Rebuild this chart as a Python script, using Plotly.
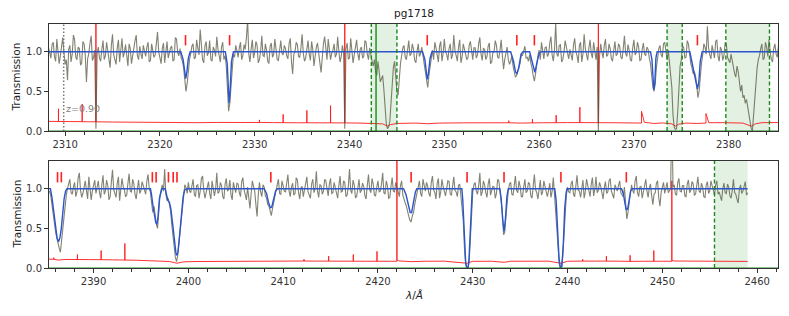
import numpy as np
import plotly.graph_objects as go

# ---------------- data ----------------
TITLE = "pg1718"
Z_LABEL = "z=0.90"
Z_WAVE = 2309.85
Z_LABEL_Y = 0.28

top_xrange = [2308.3, 2385.2]
bot_xrange = [2385.3, 2462.2]
y_range = [0, 1.35]
y_ticks = [0.0, 0.5, 1.0]
y_ticktext = ["0.0", "0.5", "1.0"]

# observed normalised flux, sampled every 0.125 A
top_wave0, top_dwave = 2308.25, 0.125
top_flux = [
    1.05, 0.97, 0.92, 1.09, 1.12, 0.94, 0.88, 1.16, 1.02, 0.85, 0.95, 1.07, 1.18, 0.99, 0.84, 0.90, 0.64, 1.03, 1.08, 0.87,
    0.97, 1.21, 1.15, 0.93, 0.90, 1.06, 1.04, 0.83, 0.86, 1.13, 1.10, 0.96, 0.62, 0.91, 0.98, 1.11, 1.20, 0.89, 0.93, 1.02,
    0.03, 0.98, 1.06, 0.92, 0.88, 1.03, 1.14, 0.90, 0.95, 1.12, 1.02, 0.94, 0.80, 1.08, 1.22, 0.96, 0.91, 0.84, 1.05, 1.15,
    0.87, 1.00, 1.17, 0.93, 0.99, 1.09, 0.93, 0.82, 1.10, 1.04, 0.85, 0.97, 1.03, 1.14, 1.21, 0.95, 0.90, 1.07, 0.97, 0.91,
    1.08, 0.99, 0.94, 1.06, 1.12, 0.87, 0.89, 1.10, 1.01, 0.93, 0.96, 1.14, 1.25, 1.00, 0.92, 0.85, 1.04, 1.11, 0.86, 0.97,
    1.13, 0.92, 0.98, 1.05, 1.07, 0.88, 0.90, 1.18, 1.16, 0.99, 0.95, 1.04, 0.92, 0.88, 0.80, 0.62, 0.50, 0.60, 0.78, 0.90,
    0.98, 1.07, 1.10, 0.91, 0.93, 1.15, 1.05, 0.96, 1.28, 1.02, 0.90, 0.86, 1.07, 1.13, 0.95, 0.99, 1.14, 0.90, 0.88, 1.06,
    1.02, 0.94, 1.19, 1.03, 0.92, 0.87, 1.06, 1.12, 0.90, 0.95, 0.82, 0.55, 0.25, 0.35, 0.60, 0.85, 0.97, 0.93, 1.08, 1.01,
    0.93, 1.05, 1.12, 0.90, 0.95, 1.09, 1.03, 1.18, 1.40, 0.97, 0.87, 1.04, 1.15, 0.92, 0.99, 1.13, 1.08, 0.86, 0.90, 1.01,
    1.20, 0.95, 0.94, 1.10, 1.02, 0.88, 0.85, 1.07, 1.11, 0.93, 0.97, 1.16, 1.05, 0.90, 0.89, 1.02, 1.14, 0.98, 0.96, 1.08,
    1.04, 0.95, 0.91, 1.10, 1.17, 0.88, 0.72, 0.97, 1.00, 1.12, 1.09, 0.94, 0.93, 1.05, 1.22, 0.98, 0.88, 0.92, 1.05, 1.14,
    0.97, 0.89, 1.13, 1.03, 0.82, 0.96, 1.06, 1.11, 0.95, 0.86, 0.74, 1.00, 1.10, 1.19, 0.99, 0.90, 1.16, 1.04, 0.90, 0.98,
    1.02, 1.10, 0.93, 0.97, 1.19, 1.01, 0.87, 0.94, 1.08, 0.99, 0.03, 1.04, 1.11, 0.91, 0.92, 1.17, 1.04, 0.86, 0.96, 1.09,
    1.15, 0.98, 0.89, 1.03, 1.06, 0.92, 0.94, 1.14, 1.12, 0.97, 0.90, 1.05, 0.95, 0.88, 0.82, 0.90, 0.75, 0.70, 0.88, 0.78,
    0.62, 0.66, 0.70, 0.52, 0.30, 0.10, 0.03, 0.05, 0.12, 0.35, 0.60, 0.80, 0.88, 0.70, 0.50, 0.45, 0.68, 0.85, 0.95, 1.05,
    1.08, 0.93, 0.90, 1.02, 1.14, 0.95, 0.97, 1.10, 1.03, 0.89, 0.86, 1.00, 1.10, 0.94, 0.98, 1.06, 0.92, 0.85, 0.75, 0.62,
    0.55, 0.70, 0.82, 0.95, 1.02, 0.90, 1.12, 1.05, 0.93, 0.87, 1.07, 1.13, 0.88, 0.98, 1.16, 1.00, 0.97, 0.89, 1.04, 1.10,
    0.91, 0.96, 1.21, 1.02, 0.95, 0.88, 1.06, 1.15, 0.86, 0.93, 1.10, 1.04, 0.99, 0.90, 0.93, 1.08, 1.13, 0.97, 0.90, 1.05,
    1.05, 0.92, 0.96, 1.10, 1.18, 0.97, 0.89, 1.04, 1.03, 0.90, 0.94, 1.07, 1.11, 0.85, 0.87, 0.99, 1.00, 1.14, 1.08, 0.93,
    0.92, 1.02, 1.15, 0.95, 0.78, 0.90, 0.98, 1.06, 0.90, 0.84, 0.88, 0.95, 0.82, 0.74, 0.68, 0.70, 0.74, 0.80, 0.86, 0.97,
    0.95, 1.03, 1.07, 0.92, 0.93, 0.88, 0.96, 0.86, 0.80, 0.70, 0.63, 0.72, 0.85, 0.95, 1.02, 0.90, 1.12, 1.00, 0.91, 1.05,
    1.06, 0.94, 0.97, 1.11, 1.19, 0.96, 0.88, 1.03, 1.36, 0.97, 0.94, 1.08, 1.09, 0.87, 0.90, 1.00, 1.14, 1.06, 0.96, 0.91,
    1.03, 0.95, 0.89, 1.08, 1.17, 1.00, 0.95, 0.86, 1.08, 1.12, 0.87, 0.97, 1.22, 1.04, 0.93, 0.89, 1.05, 1.15, 0.98, 0.92,
    1.12, 1.01, 0.90, 1.06, 0.00, 0.95, 1.10, 0.99, 0.92, 1.08, 1.16, 0.94, 0.96, 1.10, 1.04, 0.91, 0.88, 1.02, 1.13, 0.95,
    0.97, 1.10, 1.07, 0.93, 0.91, 1.04, 1.20, 0.98, 0.94, 1.09, 1.02, 0.90, 0.88, 1.05, 1.15, 0.96, 0.99, 1.12, 1.06, 0.89,
    0.90, 1.03, 1.11, 0.97, 0.95, 1.06, 1.03, 0.92, 0.85, 0.70, 0.55, 0.50, 0.60, 0.80, 0.95, 1.04, 1.08, 0.96, 0.93, 1.10,
    1.12, 0.96, 0.90, 1.02, 0.85, 0.78, 0.55, 0.20, 0.05, 0.02, 0.03, 0.25, 0.60, 0.82, 0.90, 1.08, 1.05, 0.92, 0.93, 1.14,
    1.10, 0.95, 0.85, 0.80, 0.72, 0.75, 0.70, 0.58, 0.42, 0.50, 0.70, 0.85, 0.95, 1.10, 1.06, 0.97, 1.32, 1.05, 0.96, 0.91,
    1.08, 1.00, 0.92, 1.13, 1.15, 0.94, 0.88, 1.06, 1.02, 0.89, 0.95, 1.12, 1.10, 0.93, 0.90, 0.86, 0.97, 0.88, 0.80, 0.72,
    0.68, 0.82, 0.75, 0.60, 0.50, 0.58, 0.42, 0.45, 0.35, 0.40, 0.30, 0.22, 0.10, 0.03, 0.00, 0.20, 0.45, 0.65, 0.80, 0.90,
    0.95, 1.04, 1.10, 0.90, 0.92, 1.12, 1.06, 0.94, 1.15, 1.00, 0.90, 0.87, 1.04, 1.10, 0.97, 0.93, 1.08,
]

bot_wave0, bot_dwave = 2385.25, 0.125
bot_flux = [
    0.95, 0.97, 0.90, 0.78, 0.62, 0.52, 0.45, 0.38, 0.30, 0.25, 0.20, 0.35, 0.55, 0.68, 0.80, 0.92, 1.00, 1.06, 1.12, 0.95,
    0.93, 1.02, 1.08, 0.90, 0.96, 1.14, 1.20, 0.98, 0.89, 0.94, 1.05, 1.10, 0.98, 0.87, 1.15, 1.03, 0.86, 0.97, 1.03, 1.11,
    0.94, 1.02, 1.10, 0.95, 0.88, 1.05, 1.17, 0.93, 0.97, 1.11, 1.04, 0.86, 0.90, 1.08, 1.24, 0.99, 0.95, 0.89, 1.07, 1.15,
    0.85, 0.96, 1.13, 1.03, 0.99, 0.90, 0.92, 1.07, 1.19, 0.97, 0.96, 1.12, 1.06, 0.93, 0.87, 1.00, 1.11, 0.94, 0.98, 1.09,
    1.03, 0.96, 0.93, 1.10, 1.18, 1.00, 0.95, 0.82, 0.70, 0.78, 0.62, 0.55, 0.50, 0.72, 0.90, 0.98, 1.05, 0.97, 1.25, 0.93,
    0.85, 0.88, 0.80, 0.72, 0.55, 0.40, 0.25, 0.14, 0.08, 0.15, 0.30, 0.45, 0.60, 0.78, 0.92, 1.05, 1.02, 0.94, 1.08, 0.97,
    0.95, 1.06, 1.12, 0.93, 0.90, 1.04, 1.05, 0.88, 0.97, 1.13, 1.16, 0.98, 0.88, 0.95, 1.03, 1.09, 0.94, 0.87, 1.10, 1.02,
    0.91, 0.99, 1.20, 0.94, 0.96, 1.08, 1.04, 0.90, 0.87, 1.06, 1.13, 0.97, 0.99, 1.11, 0.92, 0.86, 1.08, 1.01, 0.95, 1.07,
    1.06, 0.95, 0.90, 1.09, 1.14, 0.99, 0.93, 0.86, 1.02, 0.90, 0.75, 0.94, 1.10, 1.03, 0.97, 0.80, 0.65, 0.92, 1.08, 0.96,
    0.90, 1.05, 1.02, 0.91, 0.88, 0.80, 0.78, 0.72, 0.66, 0.75, 0.85, 0.90, 0.98, 1.07, 1.12, 0.94, 0.93, 1.10, 1.05, 0.97,
    0.96, 1.05, 1.18, 0.97, 0.90, 1.02, 1.07, 0.92, 0.94, 1.14, 1.11, 0.95, 0.87, 1.01, 1.03, 0.90, 0.98, 1.08, 1.15, 0.96,
    0.92, 0.88, 1.06, 1.12, 0.95, 1.00, 1.22, 0.97, 0.89, 1.05, 1.04, 0.93, 0.97, 1.12, 1.10, 0.99, 0.91, 1.06, 1.13, 0.94,
    0.95, 1.08, 1.02, 0.93, 0.88, 1.04, 1.16, 0.96, 0.97, 1.10, 1.08, 0.90, 0.92, 1.03, 1.25, 0.98, 0.94, 1.11, 1.05, 0.89,
    0.90, 1.00, 1.12, 0.95, 0.98, 1.07, 1.03, 0.91, 0.87, 1.04, 1.18, 0.99, 0.95, 1.13, 1.06, 0.92, 0.91, 1.02, 1.10, 0.96,
    0.97, 1.06, 1.20, 0.95, 0.93, 1.10, 1.04, 0.88, 0.89, 1.03, 1.14, 0.97, 0.96, 1.08, 1.02, 0.93, 0.90, 1.04, 1.10, 0.92,
    0.85, 0.82, 0.78, 0.70, 0.65, 0.60, 0.58, 0.66, 0.70, 0.80, 0.88, 0.96, 1.05, 1.10, 0.94, 0.90, 1.12, 1.02, 0.97, 1.08,
    1.03, 0.94, 0.90, 1.08, 1.16, 0.99, 0.95, 0.87, 1.07, 1.13, 0.88, 0.96, 1.12, 1.03, 0.97, 0.91, 1.00, 1.10, 1.09, 0.93,
    0.92, 1.05, 1.15, 0.98, 0.96, 0.90, 1.04, 1.06, 0.90, 0.82, 0.60, 0.25, 0.05, 0.02, 0.00, 0.08, 0.40, 0.75, 0.95, 1.05,
    1.08, 0.97, 0.93, 1.04, 1.20, 0.91, 0.96, 1.10, 1.05, 0.95, 0.89, 1.06, 1.13, 0.92, 0.98, 1.03, 1.02, 0.88, 0.94, 1.12,
    1.10, 0.96, 0.90, 0.70, 0.42, 0.45, 0.65, 0.88, 0.97, 1.06, 1.08, 0.93, 0.92, 1.04, 1.16, 0.98, 0.95, 1.10, 1.03, 0.90,
    0.90, 1.02, 1.12, 0.95, 0.97, 1.08, 1.06, 0.91, 0.88, 1.03, 1.18, 0.99, 0.95, 0.87, 1.04, 1.11, 0.92, 0.96, 1.10, 1.01,
    0.96, 0.90, 1.02, 1.07, 0.89, 0.97, 1.14, 0.93, 0.80, 0.55, 0.25, 0.05, 0.00, 0.03, 0.15, 0.45, 0.75, 0.92, 1.02, 0.96,
    0.95, 1.06, 1.10, 0.93, 0.90, 1.02, 1.17, 0.98, 0.97, 0.89, 1.04, 1.11, 0.88, 0.96, 1.12, 1.03, 0.94, 0.90, 1.06, 1.14,
    0.91, 0.99, 1.15, 0.95, 0.98, 1.08, 1.03, 0.92, 0.87, 1.01, 1.09, 0.94, 0.96, 1.10, 1.13, 0.97, 0.92, 0.88, 1.05, 1.02,
    0.97, 1.04, 1.10, 0.95, 0.93, 0.90, 1.02, 0.78, 0.62, 0.70, 0.80, 0.92, 1.05, 0.98, 0.94, 1.10, 1.16, 0.95, 0.90, 1.02,
    1.03, 0.88, 0.96, 1.09, 1.12, 0.97, 0.89, 1.01, 1.06, 0.91, 0.80, 0.93, 0.95, 1.07, 1.10, 0.88, 0.78, 0.96, 1.02, 1.08,
    0.94, 1.03, 1.08, 0.95, 0.97, 1.00, 2.00, 1.02, 1.05, 0.93, 0.92, 1.08, 1.13, 0.97, 0.96, 1.04, 1.04, 0.91, 0.90, 1.06,
    1.11, 0.95, 0.98, 1.09, 1.06, 0.92, 0.93, 1.03, 1.15, 0.97, 0.95, 1.07, 1.02, 0.90, 0.89, 1.05, 1.09, 0.94, 0.97, 1.10,
    1.03, 0.96, 0.92, 1.05, 1.10, 0.93, 0.96, 0.90, 0.85, 1.00, 1.07, 0.95, 0.94, 1.06, 1.02, 0.91, 0.88, 0.98, 1.12, 0.95,
    0.93, 0.87, 0.82, 0.99, 1.05, 0.94, 0.97, 1.03, 1.09, 0.92, 0.95,
]

# fitted absorption model (wavelength, transmission)
top_model_pts = [
    (2308.25, 1.0), (2322.2, 1.0), (2322.45, 0.9), (2322.6, 0.72), (2322.72, 0.66), (2322.85, 0.75), (2323.0, 0.92), (2323.2, 1.0),
    (2326.9, 1.0), (2327.1, 0.85), (2327.22, 0.5), (2327.3, 0.35), (2327.4, 0.5), (2327.55, 0.88), (2327.75, 1.0),
    (2347.7, 1.0), (2347.95, 0.9), (2348.1, 0.72), (2348.2, 0.65), (2348.32, 0.72), (2348.5, 0.92), (2348.7, 1.0),
    (2357.0, 1.0), (2357.3, 0.88), (2357.5, 0.75), (2357.65, 0.72), (2357.85, 0.8), (2358.1, 0.97), (2358.3, 1.0),
    (2359.0, 1.0), (2359.25, 0.88), (2359.45, 0.75), (2359.55, 0.74), (2359.75, 0.85), (2360.0, 0.98), (2360.2, 1.0),
    (2371.75, 1.0), (2371.9, 0.9), (2372.02, 0.6), (2372.1, 0.52), (2372.2, 0.6), (2372.32, 0.92), (2372.45, 1.0),
    (2375.9, 1.0), (2376.1, 0.88), (2376.25, 0.78), (2376.4, 0.72), (2376.55, 0.62), (2376.7, 0.53), (2376.85, 0.62),
    (2377.0, 0.88), (2377.2, 1.0), (2385.25, 1.0),
]
bot_model_pts = [
    (2385.25, 1.0), (2385.45, 1.0), (2385.6, 0.9), (2385.8, 0.72), (2386.0, 0.55), (2386.15, 0.38), (2386.3, 0.33),
    (2386.45, 0.38), (2386.6, 0.5), (2386.75, 0.7), (2386.9, 0.88), (2387.05, 0.97), (2387.2, 1.0),
    (2396.0, 1.0), (2396.1, 0.94), (2396.25, 0.8), (2396.4, 0.7), (2396.55, 0.58), (2396.68, 0.55), (2396.8, 0.65),
    (2396.95, 0.88), (2397.1, 0.98), (2397.2, 1.0), (2397.55, 1.0), (2397.7, 0.92), (2397.85, 0.85), (2398.0, 0.83),
    (2398.15, 0.75), (2398.35, 0.55), (2398.55, 0.3), (2398.7, 0.18), (2398.8, 0.16), (2398.9, 0.2), (2399.05, 0.38),
    (2399.25, 0.68), (2399.45, 0.9), (2399.6, 0.98), (2399.8, 1.0),
    (2408.0, 1.0), (2408.25, 0.94), (2408.45, 0.83), (2408.65, 0.76), (2408.8, 0.77), (2409.0, 0.88), (2409.2, 0.97), (2409.4, 1.0),
    (2422.7, 1.0), (2422.95, 0.93), (2423.2, 0.8), (2423.4, 0.7), (2423.55, 0.7), (2423.75, 0.82), (2423.95, 0.96), (2424.1, 1.0),
    (2428.85, 1.0), (2428.95, 0.85), (2429.1, 0.45), (2429.25, 0.08), (2429.35, 0.0), (2429.5, 0.0), (2429.6, 0.1),
    (2429.75, 0.55), (2429.85, 0.9), (2429.95, 1.0),
    (2432.85, 1.0), (2433.0, 0.88), (2433.15, 0.62), (2433.3, 0.46), (2433.45, 0.62), (2433.6, 0.9), (2433.75, 1.0),
    (2438.65, 1.0), (2438.8, 0.85), (2438.95, 0.5), (2439.1, 0.12), (2439.25, 0.0), (2439.4, 0.02), (2439.55, 0.3),
    (2439.7, 0.75), (2439.85, 0.95), (2439.95, 1.0),
    (2445.7, 1.0), (2445.9, 0.93), (2446.05, 0.82), (2446.2, 0.73), (2446.35, 0.75), (2446.5, 0.87), (2446.65, 0.97), (2446.8, 1.0),
    (2459.0, 1.0),
]

# flux error spectrum (wavelength, sigma); spikes as repeated wavelengths
top_err_pts = [
    (2308.25, 0.122), (2309.0, 0.121), (2309.3, 0.12), (2309.3, 0.28), (2309.3, 0.12), (2310.5, 0.119), (2311.8, 0.118),
    (2311.8, 0.34), (2311.8, 0.117), (2313.25, 0.116), (2313.25, 3.0), (2313.25, 0.116), (2315.0, 0.113), (2317.0, 0.11),
    (2319.0, 0.109), (2321.0, 0.106), (2322.7, 0.1), (2324.0, 0.105), (2326.0, 0.108), (2327.2, 0.115), (2327.5, 0.108),
    (2329.0, 0.107), (2330.5, 0.108), (2330.5, 0.14), (2330.5, 0.108), (2332.0, 0.106), (2333.0, 0.105), (2333.0, 0.21),
    (2333.0, 0.105), (2334.5, 0.104), (2335.5, 0.104), (2335.5, 0.26), (2335.5, 0.104), (2337.0, 0.103), (2338.0, 0.103),
    (2338.0, 0.32), (2338.0, 0.103), (2339.5, 0.102), (2339.5, 3.0), (2339.5, 0.102), (2341.0, 0.1), (2342.5, 0.098),
    (2343.5, 0.09), (2344.0, 0.06), (2344.3, 0.08), (2345.0, 0.095), (2347.0, 0.1), (2348.2, 0.092), (2349.5, 0.1),
    (2352.0, 0.103), (2354.5, 0.106), (2356.8, 0.104), (2356.8, 0.13), (2356.8, 0.104), (2358.0, 0.1), (2359.3, 0.102),
    (2359.3, 0.15), (2359.3, 0.102), (2360.5, 0.104), (2361.8, 0.105), (2361.8, 0.2), (2361.8, 0.105), (2363.0, 0.106),
    (2364.3, 0.106), (2364.3, 0.3), (2364.3, 0.106), (2366.25, 0.105), (2366.25, 3.0), (2366.25, 0.105), (2368.0, 0.104),
    (2370.8, 0.1), (2370.8, 0.25), (2370.95, 0.16), (2371.1, 0.11), (2372.1, 0.095), (2373.0, 0.102), (2374.0, 0.09),
    (2374.4, 0.06), (2374.7, 0.085), (2375.5, 0.1), (2376.7, 0.095), (2377.6, 0.1), (2377.6, 0.22), (2377.75, 0.15),
    (2377.9, 0.105), (2379.5, 0.105), (2381.5, 0.1), (2382.4, 0.06), (2382.8, 0.09), (2383.5, 0.105), (2385.25, 0.107),
]
bot_err_pts = [
    (2385.25, 0.112), (2385.8, 0.11), (2385.8, 0.13), (2385.8, 0.11), (2386.3, 0.1), (2387.0, 0.108), (2388.3, 0.107),
    (2388.3, 0.17), (2388.3, 0.107), (2389.5, 0.106), (2390.8, 0.105), (2390.8, 0.22), (2390.8, 0.105), (2392.0, 0.103),
    (2393.3, 0.1), (2393.3, 0.31), (2393.3, 0.1), (2394.5, 0.098), (2396.0, 0.092), (2396.7, 0.085), (2397.5, 0.088),
    (2398.0, 0.082), (2398.8, 0.06), (2399.5, 0.078), (2401.0, 0.082), (2403.0, 0.084), (2405.0, 0.086), (2407.0, 0.087),
    (2408.7, 0.083), (2410.0, 0.088), (2412.2, 0.088), (2412.2, 0.11), (2412.2, 0.088), (2413.5, 0.087), (2414.8, 0.087),
    (2414.8, 0.15), (2414.8, 0.087), (2416.0, 0.086), (2417.4, 0.086), (2417.4, 0.17), (2417.4, 0.086), (2418.5, 0.085),
    (2419.9, 0.085), (2419.9, 0.21), (2419.9, 0.085), (2421.0, 0.085), (2422.0, 0.085), (2422.0, 3.0), (2422.0, 0.1),
    (2422.2, 0.09), (2423.5, 0.08), (2425.0, 0.085), (2427.0, 0.086), (2429.4, 0.06), (2430.0, 0.084), (2432.0, 0.085),
    (2433.3, 0.072), (2434.0, 0.085), (2436.0, 0.086), (2438.0, 0.086), (2439.3, 0.06), (2440.0, 0.085), (2441.6, 0.087),
    (2441.6, 0.11), (2441.6, 0.087), (2443.0, 0.087), (2444.1, 0.087), (2444.1, 0.15), (2444.1, 0.087), (2445.5, 0.086),
    (2446.6, 0.083), (2446.6, 0.16), (2446.6, 0.083), (2448.0, 0.085), (2449.1, 0.085), (2449.1, 0.22), (2449.1, 0.085),
    (2450.0, 0.085), (2451.0, 0.085), (2451.0, 1.1), (2451.0, 0.095), (2451.3, 0.088), (2453.0, 0.085), (2455.0, 0.084),
    (2457.0, 0.083), (2459.0, 0.083),
]

# identified line positions (red ticks)
top_lines = [2322.7, 2327.35, 2348.2, 2357.65, 2359.5, 2376.7]
bot_lines = [2386.2, 2386.6, 2396.2, 2396.6, 2397.9, 2398.4, 2398.8, 2408.7, 2423.5, 2429.4, 2433.3, 2439.3, 2446.2]
tick_lo, tick_hi = 1.08, 1.21

# masked regions
top_regions = [(2342.3, 2345.0), (2373.5, 2375.1), (2379.7, 2384.3)]
top_dashed = [2342.3, 2345.0, 2373.5, 2375.1, 2379.7, 2384.3]
top_solid_green = [2342.8]
bot_regions = [(2455.5, 2459.0)]
bot_dashed = [2455.5]

# ---------------- styles ----------------
FONT = "DejaVu Sans"
C_DATA = "rgba(80,82,58,0.72)"
C_MODEL = "#2a55cc"
C_ERR = "#ff1a1a"
C_GREEN = "#1a8a1a"
C_AX = "#333333"

fig = go.Figure()


def add_panel(xa, ya, wave0, dwave, flux, model_pts, err_pts, lines):
    wave = wave0 + dwave * np.arange(len(flux))
    ex, ey = zip(*err_pts)
    fig.add_trace(go.Scatter(x=ex, y=ey, mode="lines", line=dict(color=C_ERR, width=0.9),
                             xaxis=xa, yaxis=ya, hoverinfo="skip", showlegend=False))
    fig.add_trace(go.Scatter(x=wave, y=flux, mode="lines", line=dict(color=C_DATA, width=1.1),
                             xaxis=xa, yaxis=ya, hoverinfo="skip", showlegend=False))
    mx, my = zip(*model_pts)
    fig.add_trace(go.Scatter(x=mx, y=my, mode="lines", line=dict(color=C_MODEL, width=1.4),
                             xaxis=xa, yaxis=ya, hoverinfo="skip", showlegend=False))
    tx, ty = [], []
    for w in lines:
        tx += [w, w, None]
        ty += [tick_lo, tick_hi, None]
    fig.add_trace(go.Scatter(x=tx, y=ty, mode="lines", line=dict(color="#ff2020", width=1.6),
                             xaxis=xa, yaxis=ya, hoverinfo="skip", showlegend=False))


add_panel("x", "y", top_wave0, top_dwave, top_flux, top_model_pts, top_err_pts, top_lines)
add_panel("x2", "y2", bot_wave0, bot_dwave, bot_flux, bot_model_pts, bot_err_pts, bot_lines)

shapes = []


def region_shapes(xref, yref, regions, dashed, solid):
    for a, b in regions:
        shapes.append(dict(type="rect", xref=xref, yref=yref + " domain", x0=a, x1=b, y0=0, y1=1,
                           fillcolor="rgba(0,128,0,0.11)", line=dict(width=0), layer="below"))
    for d in dashed:
        shapes.append(dict(type="line", xref=xref, yref=yref + " domain", x0=d, x1=d, y0=0, y1=1,
                           line=dict(color=C_GREEN, width=1.4, dash="4px,2.5px"), layer="above"))
    for s in solid:
        shapes.append(dict(type="line", xref=xref, yref=yref + " domain", x0=s, x1=s, y0=0, y1=1,
                           line=dict(color=C_GREEN, width=1.4), layer="above"))
    shapes.append(dict(type="line", xref=xref + " domain", yref=yref, x0=0, x1=1, y0=0, y1=0,
                       line=dict(color=C_GREEN, width=1.2), layer="above"))


region_shapes("x", "y", top_regions, top_dashed, top_solid_green)
region_shapes("x2", "y2", bot_regions, bot_dashed, [])
shapes.append(dict(type="line", xref="x", yref="y domain", x0=Z_WAVE, x1=Z_WAVE, y0=0, y1=1,
                   line=dict(color="#777777", width=1.5, dash="1.5px,2px"), layer="above"))

W, H = 789, 316
ML, MR, MT, MB = 49, 11, 24, 48
plot_h = H - MT - MB
top_dom = [137 / plot_h, 1.0]
bot_dom = [0.0, 107 / plot_h]

xcommon = dict(showline=True, mirror=True, linecolor=C_AX, linewidth=1, ticks="outside", ticklen=4,
               tickwidth=1, tickcolor=C_AX, dtick=10, tick0=2300, tickformat="d", showgrid=False,
               zeroline=False, tickfont=dict(family=FONT, size=10, color="#333"),
               minor=dict(dtick=2, tick0=2300, ticks="outside", ticklen=2.5, tickcolor=C_AX, showgrid=False))
ycommon = dict(showline=True, mirror=True, linecolor=C_AX, linewidth=1, ticks="outside", ticklen=4,
               tickwidth=1, tickcolor=C_AX, range=y_range, tickvals=y_ticks, ticktext=y_ticktext,
               showgrid=False, zeroline=False, tickfont=dict(family=FONT, size=10, color="#333"))

ytitle_x = -33 / (W - ML - MR)
annotations = [
    dict(text=TITLE, xref="paper", yref="paper", x=0.5, y=1.0, xanchor="center", yanchor="bottom", yshift=3,
         showarrow=False, font=dict(family=FONT, size=10.5, color="#222")),
    dict(text="Transmission", xref="paper", yref="paper", x=ytitle_x, y=sum(top_dom) / 2,
         xanchor="center", yanchor="middle", textangle=-90, showarrow=False,
         font=dict(family=FONT, size=10.5, color="#222")),
    dict(text="Transmission", xref="paper", yref="paper", x=ytitle_x, y=sum(bot_dom) / 2,
         xanchor="center", yanchor="middle", textangle=-90, showarrow=False,
         font=dict(family=FONT, size=10.5, color="#222")),
    dict(text="<i>λ</i>/<i>Å</i>", xref="paper", yref="paper", x=0.5, y=0.0, xanchor="center", yanchor="middle",
         yshift=-27, showarrow=False, font=dict(family=FONT, size=10.5, color="#222")),
    dict(text=Z_LABEL, xref="x", yref="y", x=Z_WAVE, y=Z_LABEL_Y, xanchor="left", yanchor="middle",
         showarrow=False, font=dict(family=FONT, size=9.5, color="#808080")),
]

fig.update_layout(
    width=W, height=H, margin=dict(l=ML, r=MR, t=MT, b=MB, autoexpand=False),
    paper_bgcolor="white", plot_bgcolor="white", showlegend=False,
    xaxis=dict(domain=[0, 1], anchor="y", range=top_xrange, **xcommon),
    yaxis=dict(domain=top_dom, anchor="x", **ycommon),
    xaxis2=dict(domain=[0, 1], anchor="y2", range=bot_xrange, **xcommon),
    yaxis2=dict(domain=bot_dom, anchor="x2", **ycommon),
    shapes=shapes, annotations=annotations,
    font=dict(family=FONT),
)

fig.write_html(
    "out.html",
    config={"displayModeBar": False},
    post_script="document.body.style.margin='0';document.body.style.overflow='hidden';",
)
